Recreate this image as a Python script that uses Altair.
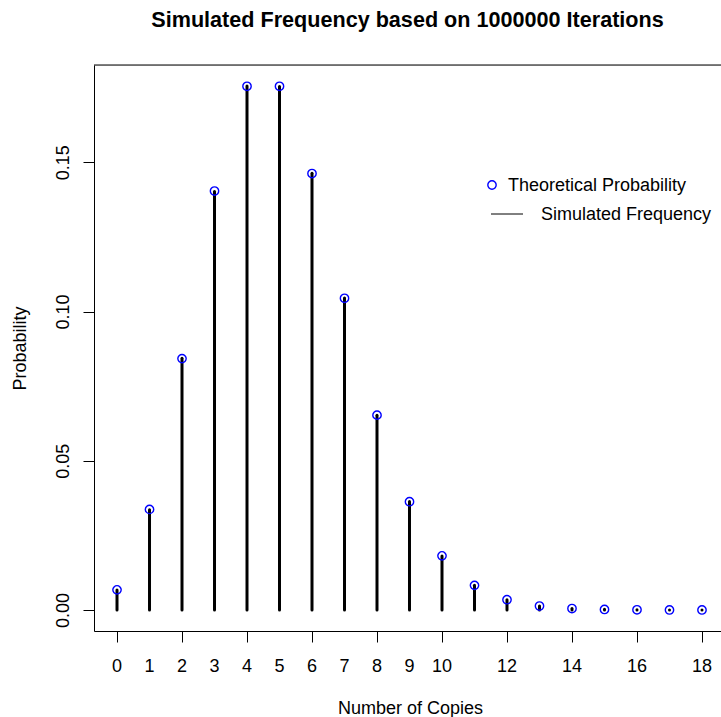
import altair as alt
import pandas as pd

copies = list(range(19))
theoretical = [0.00674, 0.03369, 0.08422, 0.14037, 0.17547, 0.17547, 0.14622,
               0.10444, 0.06528, 0.03627, 0.01813, 0.00824, 0.00343, 0.00132,
               0.00047, 0.00016, 0.00005, 0.00001, 0.000004]
simulated = [0.0067, 0.0336, 0.0843, 0.1402, 0.1756, 0.1754, 0.1463,
             0.1045, 0.0652, 0.0363, 0.0181, 0.0083, 0.0034, 0.0013,
             0.0005, 0.0002, 0.00005, 0.00001, 0.000004]
x_ticks = list(range(19))
x_labels_shown = [0, 1, 2, 3, 4, 5, 6, 7, 8, 9, 10, 12, 14, 16, 18]
y_ticks = [0.0, 0.05, 0.10, 0.15]

df = pd.DataFrame({"copies": copies, "theo": theoretical, "sim": simulated,
                   "zero": [0.0] * len(copies)})
lab_df = pd.DataFrame({"v": x_labels_shown, "t": [str(v) for v in x_labels_shown]})

W, H = 627, 566
FONT = "Liberation Sans"

xscale = alt.Scale(domain=[-0.708, 18.585], nice=False, zero=False)
yscale = alt.Scale(domain=[-0.00705, 0.1826], nice=False, zero=False)

xaxis = alt.Axis(values=x_ticks, labels=False, tickSize=11,
                 tickColor="black", domainColor="black",
                 grid=False, title="Number of Copies", titleFont=FONT,
                 titleFontSize=18, titleFontWeight="normal", titleColor="black",
                 titleX=316, titleY=82, titleBaseline="alphabetic", titleAlign="center")
yaxis = alt.Axis(values=y_ticks, format=".2f", tickSize=11, labelPadding=15,
                 labelAngle=270, labelAlign="center", labelBaseline="alphabetic",
                 labelFontSize=18, labelFont=FONT, labelColor="black",
                 tickColor="black", domainColor="black", grid=False,
                 title="Probability", titleFont=FONT, titleFontSize=18,
                 titleFontWeight="normal", titleColor="black", titleAngle=270,
                 titleX=-69, titleY=283, titleBaseline="alphabetic", titleAlign="center",
                 labelFlush=False, labelOverlap=False)

base = alt.Chart(df)

stems = base.mark_rule(color="black", strokeWidth=3, strokeCap="round").encode(
    x=alt.X("copies:Q", scale=xscale, axis=xaxis),
    y=alt.Y("zero:Q", scale=yscale, axis=yaxis),
    y2="sim:Q",
)

points = base.mark_point(shape="circle", filled=False, color="#0000FF",
                         size=70, strokeWidth=1.4, opacity=1).encode(
    x=alt.X("copies:Q", scale=xscale),
    y=alt.Y("theo:Q", scale=yscale),
)

xlabels = alt.Chart(lab_df).mark_text(align="center", baseline="alphabetic", font=FONT,
                                      fontSize=18, color="black", clip=False).encode(
    x=alt.X("v:Q", scale=xscale),
    y=alt.value(H + 41),
    text="t:N",
)

top_frame = alt.Chart(pd.DataFrame({"a": [0]})).mark_rule(color="black", strokeWidth=1).encode(
    x=alt.value(0), x2=alt.value(W + 5), y=alt.value(0)
)

leg_df = pd.DataFrame({"a": [0]})
leg_pt = alt.Chart(leg_df).mark_point(shape="circle", filled=False, color="#0000FF",
                                      size=70, strokeWidth=1.4, opacity=1).encode(
    x=alt.value(398), y=alt.value(120))
leg_t1 = alt.Chart(leg_df).mark_text(text="Theoretical Probability", align="left",
                                     baseline="middle", font=FONT, fontSize=18,
                                     color="black").encode(x=alt.value(414), y=alt.value(121))
leg_line = alt.Chart(leg_df).mark_rule(color="black", strokeWidth=1).encode(
    x=alt.value(397), x2=alt.value(429), y=alt.value(149))
leg_t2 = alt.Chart(leg_df).mark_text(text="Simulated Frequency", align="left",
                                     baseline="middle", font=FONT, fontSize=18,
                                     color="black").encode(x=alt.value(447), y=alt.value(150))

chart = alt.layer(stems, points, xlabels, top_frame, leg_pt, leg_t1, leg_line, leg_t2).properties(
    width=W, height=H,
    title=alt.TitleParams("Simulated Frequency based on 1000000 Iterations",
                          font=FONT, fontSize=21.6, fontWeight="bold", color="black",
                          anchor="middle", frame="group", baseline="alphabetic",
                          offset=16),
    autosize=alt.AutoSizeParams(type="none"),
    padding={"left": 94, "top": 65, "right": 0, "bottom": 86},
).configure_view(stroke=None).configure(background="white")

chart.save("out.html", embed_options={"renderer": "svg", "actions": False})
